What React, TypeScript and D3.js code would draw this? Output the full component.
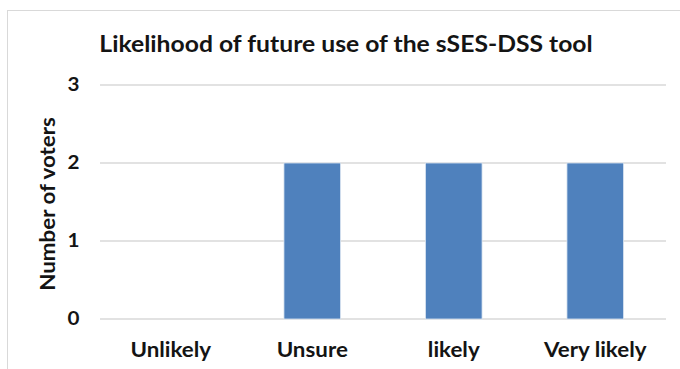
import React from "react";
import * as d3 from "d3";

const categories = ["Unlikely", "Unsure", "likely", "Very likely"];
const voters = [0, 2, 2, 2];
const yTicks = [0, 1, 2, 3];
const title = "Likelihood of future use of the sSES-DSS tool";
const yTitle = "Number of voters";

export default function App() {
  const W = 680, H = 369;
  const left = 100, right = 666, top = 85, bottom = 319;
  const x = d3.scaleBand<string>().domain(categories).range([left, right]).paddingInner(0.6).paddingOuter(0.3);
  const y = d3.scaleLinear().domain([0, 3]).range([bottom, top]);
  const font = "Lato, 'Open Sans', sans-serif";
  const ink = "#141414";
  return (
    <svg width={W} height={H} style={{ position: "absolute", left: 0, top: 0, background: "#fff" }} fontFamily={font}>
      <rect x={7.5} y={10.5} width={W} height={H} fill="#fff" stroke="#d9d9d9" strokeWidth={1} />
      <text transform={`translate(346,52) scale(1.075,1)`} textAnchor="middle" fontSize={23} fontWeight="bold" fill={ink}>{title}</text>
      {yTicks.map(t => (
        <g key={t}>
          <line x1={left} x2={right} y1={y(t)} y2={y(t)} stroke="#d9d9d9" strokeWidth={1.3} />
          <text transform={`translate(79.5,${y(t)}) scale(1.06,1)`} dy="0.3em" textAnchor="end" fontSize={19.5} fontWeight="bold" fill={ink}>{t}</text>
        </g>
      ))}
      {categories.map((c, i) => voters[i] > 0 ? (
        <rect key={c} x={x(c)} y={y(voters[i])} width={x.bandwidth()} height={y(0) - y(voters[i])} fill="#4f81bd" stroke="#dce6f2" strokeWidth={0.8} />
      ) : null)}
      {categories.map(c => (
        <text key={c} transform={`translate(${(x(c) as number) + x.bandwidth() / 2},357) scale(1.09,1)`} textAnchor="middle" fontSize={20.5} fontWeight="bold" fill={ink}>{c}</text>
      ))}
      <text transform={`translate(55,204) rotate(-90) scale(1.09,1)`} textAnchor="middle" fontSize={20.5} fontWeight="bold" fill={ink}>{yTitle}</text>
    </svg>
  );
}
